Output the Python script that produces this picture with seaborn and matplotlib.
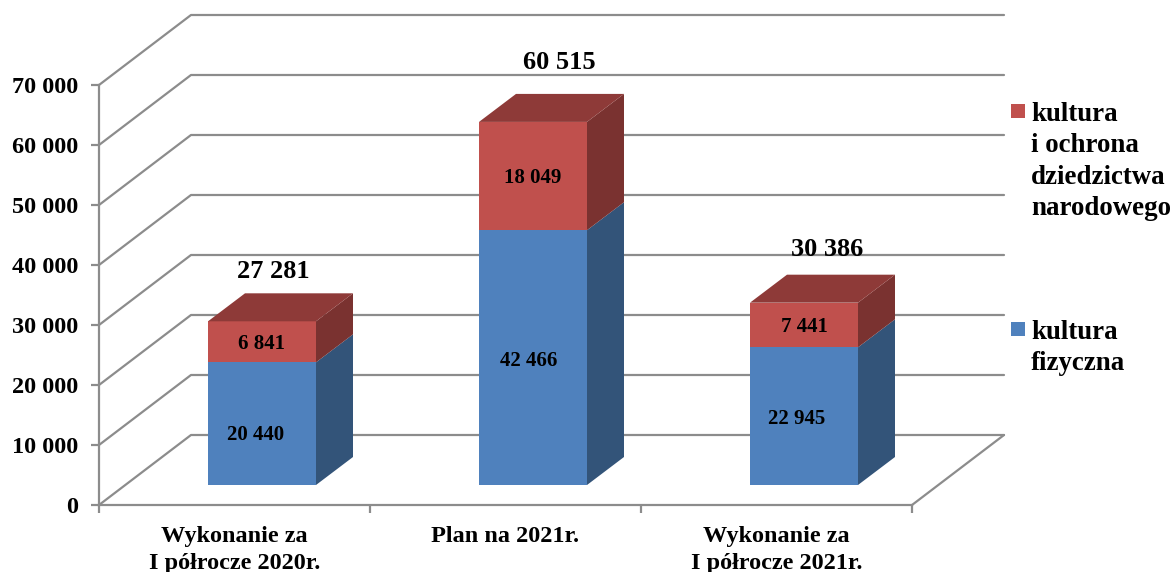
import matplotlib
matplotlib.use("Agg")
import matplotlib.pyplot as plt
from matplotlib.patches import Polygon, Rectangle
import seaborn as sns

categories = ["Wykonanie za\nI półrocze 2020r.", "Plan na 2021r.", "Wykonanie za\nI półrocze 2021r."]
kultura_fizyczna = [20440, 42466, 22945]
kultura_ochrona = [6841, 18049, 7441]
totals = [27281, 60515, 30386]
y_ticks = [0, 10000, 20000, 30000, 40000, 50000, 60000, 70000]

BLUE = "#4f81bd"
BLUE_SIDE = "#335479"
RED = "#c0504d"
RED_SIDE = "#7a3230"
RED_TOP = "#8e3a38"
GRID = "#8c8c8c"
W, H = 1172, 572
PX_Y = 70000 / 420  # data units per pixel
PX_X = 3 / 813


def fig_box(left, top, right, bottom):
    return [left / W, 1 - bottom / H, (right - left) / W, (bottom - top) / H]


def fmt(v):
    return f"{v:,}".replace(",", " ")


sns.set_theme(style="white")
plt.rcParams["font.family"] = ["Liberation Serif", "DejaVu Serif"]
plt.rcParams["font.weight"] = "bold"

fig = plt.figure(figsize=(W / 100, H / 100), dpi=100)

# front plane of the box: axis lines, ticks and labels
ax = fig.add_axes(fig_box(99, 85, 912, 505))
ax.set_xlim(-0.5, 2.5)
ax.set_ylim(0, 70000)
sns.despine(ax=ax)
for side in ["left", "bottom"]:
    ax.spines[side].set_color(GRID)
    ax.spines[side].set_linewidth(1.6)
ax.set_yticks(y_ticks, [fmt(v) for v in y_ticks], fontsize=17.5, fontweight="bold", color="black")
ax.set_xticks([-0.5, 0.5, 1.5, 2.5], [])
ax.set_xticks([0, 1, 2], categories, minor=True, fontsize=17.5, fontweight="bold", color="black",
              linespacing=1.36)
ax.tick_params(axis="y", left=True, length=6, width=1.6, color=GRID, pad=9)
ax.tick_params(axis="x", which="major", bottom=True, length=6, width=1.6, color=GRID)
ax.tick_params(axis="x", which="minor", bottom=False, length=0, pad=15)

# walls and floor
wall_dx = 92 * PX_X
wall_dy = 70 * PX_Y
for v in y_ticks:
    ax.plot([-0.5, -0.5 + wall_dx, 2.5 + wall_dx], [v, v + wall_dy, v + wall_dy],
            color=GRID, lw=1.6, clip_on=False, zorder=1)
ax.plot([2.5, 2.5 + wall_dx], [0, wall_dy], color=GRID, lw=1.6, clip_on=False, zorder=1)

# bars sit a little inside the box, so they get their own shifted axes
bar_ax = fig.add_axes(fig_box(126.5, 65, 939.5, 485))
bar_width = 108 * PX_X
sns.barplot(x=categories, y=totals, color=RED, saturation=1, width=bar_width, linewidth=0, ax=bar_ax)
sns.barplot(x=categories, y=kultura_fizyczna, color=BLUE, saturation=1, width=bar_width, linewidth=0, ax=bar_ax)
bar_ax.set_xlim(-0.5, 2.5)
bar_ax.set_ylim(0, 70000)
bar_ax.set_axis_off()

depth_x = 37 * PX_X
depth_y = 28 * PX_Y
label_shift = [(-6, -11), (-4, -3), (-7, -3)]
total_shift = [(11, 50), (26, 59), (23, 53)]
for i, (low, high) in enumerate(zip(kultura_fizyczna, totals)):
    r = i + bar_width / 2
    l = i - bar_width / 2
    side_low = [(r, 0), (r, low), (r + depth_x, low + depth_y), (r + depth_x, depth_y)]
    side_high = [(r, low), (r, high), (r + depth_x, high + depth_y), (r + depth_x, low + depth_y)]
    top = [(l, high), (r, high), (r + depth_x, high + depth_y), (l + depth_x, high + depth_y)]
    bar_ax.add_patch(Polygon(side_low, color=BLUE_SIDE, lw=0, clip_on=False))
    bar_ax.add_patch(Polygon(side_high, color=RED_SIDE, lw=0, clip_on=False))
    bar_ax.add_patch(Polygon(top, color=RED_TOP, lw=0, clip_on=False))

    bar_ax.annotate(fmt(low), (i, low / 2), xytext=label_shift[i], textcoords="offset pixels",
                    ha="center", va="center", fontsize=15, fontweight="bold", color="black")
    bar_ax.annotate(fmt(kultura_ochrona[i]), (i, low + kultura_ochrona[i] / 2), xytext=(0, -2),
                    textcoords="offset pixels",
                    ha="center", va="center", fontsize=15, fontweight="bold", color="black")
    bar_ax.annotate(fmt(high), (i, high), xytext=total_shift[i], textcoords="offset pixels",
                    ha="center", va="center", fontsize=19, fontweight="bold", color="black",
                    annotation_clip=False)

# legend, placed by hand like the original
legend_items = [
    (RED, 104, "kultura\ni ochrona\ndziedzictwa\nnarodowego"),
    (BLUE, 322, "kultura\nfizyczna"),
]
for color, top_px, label in legend_items:
    fig.add_artist(Rectangle((1011 / W, 1 - (top_px + 14) / H), 14 / W, 14 / H,
                             transform=fig.transFigure, color=color, lw=0))
    fig.text(1031 / W, 1 - (top_px - 2) / H, label, ha="left", va="top", fontsize=19.4,
             fontweight="bold", color="black", linespacing=1.33)

fig.savefig("out.png", dpi=100)
